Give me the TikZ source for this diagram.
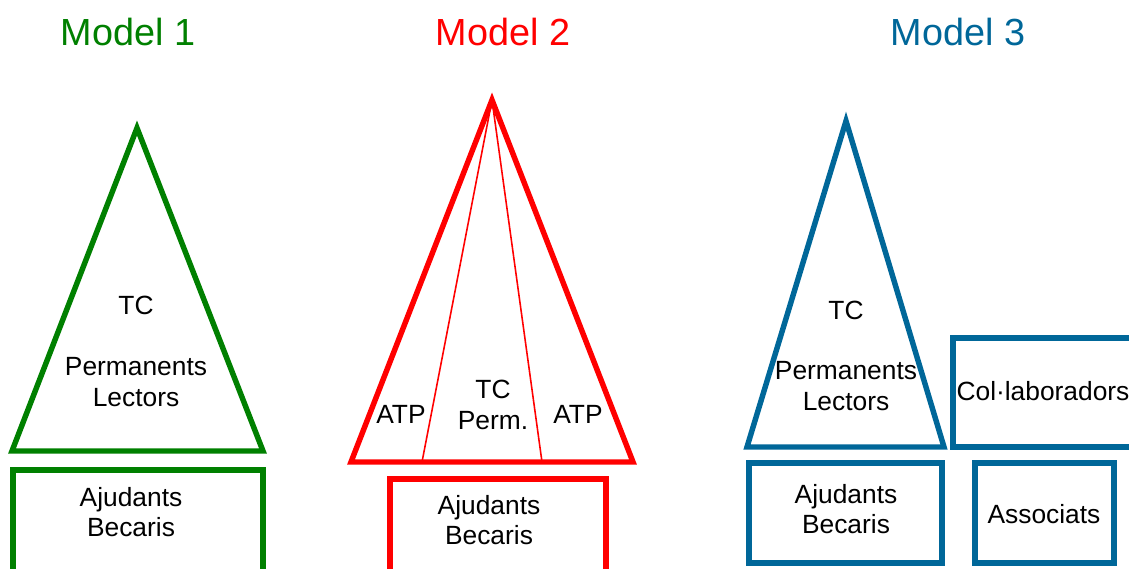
\documentclass[tikz,border=0pt]{standalone}
\usepackage{fontspec}
\setmainfont{Liberation Sans}
\definecolor{modelgreen}{RGB}{0,128,0}
\definecolor{modelred}{RGB}{255,0,0}
\definecolor{modelblue}{RGB}{0,103,153}
\begin{document}
\begin{tikzpicture}
[x=0.02cm,y=-0.02cm,
  titledecorate/.style={font=\fontsize{21.5}{26}\selectfont},
  labeldecorate/.style={align=center,inner sep=0pt,font=\fontsize{15}{17.5}\selectfont},
  shapedecorate/.style={line width=3.1pt,line join=miter},
  splitdecorate/.style={line width=0.9pt}]
\useasboundingbox (0,0) rectangle (1129,568);
% titles
\node (title1) at (128,32) [titledecorate,text=modelgreen] {Model 1};
\node (title2) at (503,32) [titledecorate,text=modelred] {Model 2};
\node (title3) at (958,32) [titledecorate,text=modelblue] {Model 3};
% model 1
\draw[shapedecorate,modelgreen] (137,128) -- (263,451) -- (12,451) -- cycle;
\draw[shapedecorate,modelgreen] (13,470) rectangle (263,580);
\node (tc1) at (136,305) [labeldecorate] {TC};
\node (perm1) at (136,382) [labeldecorate] {Permanents\\Lectors};
\node (ajud1) at (131,512) [labeldecorate] {Ajudants\\Becaris};
% model 2
\coordinate (apex2) at (492,100);
\coordinate (split2a) at (422,462);
\coordinate (split2b) at (542,462);
\draw[shapedecorate,modelred] (apex2) -- (633,462) -- (351,462) -- cycle;
\draw[splitdecorate,modelred] (apex2) -- (split2a) (apex2) -- (split2b);
\draw[shapedecorate,modelred] (390,479) rectangle (606,580);
\node (atp2a) at (401,414) [labeldecorate] {ATP};
\node (tc2) at (493,405) [labeldecorate] {TC\\Perm.};
\node (atp2b) at (578,414) [labeldecorate] {ATP};
\node (ajud2) at (489,520) [labeldecorate] {Ajudants\\Becaris};
% model 3
\draw[shapedecorate,modelblue] (846,121) -- (944,447) -- (747,447) -- cycle;
\draw[shapedecorate,modelblue] (953,338) rectangle (1140,447);
\draw[shapedecorate,modelblue] (749,463) rectangle (942,563);
\draw[shapedecorate,modelblue] (975,463) rectangle (1114,563);
\node (tc3) at (846,310) [labeldecorate] {TC};
\node (perm3) at (846,386) [labeldecorate] {Permanents\\Lectors};
\node (colab3) at (1043,391) [labeldecorate] {Col·laboradors};
\node (ajud3) at (846,509) [labeldecorate] {Ajudants\\Becaris};
\node (assoc3) at (1044,514) [labeldecorate] {Associats};
\end{tikzpicture}
\end{document}
